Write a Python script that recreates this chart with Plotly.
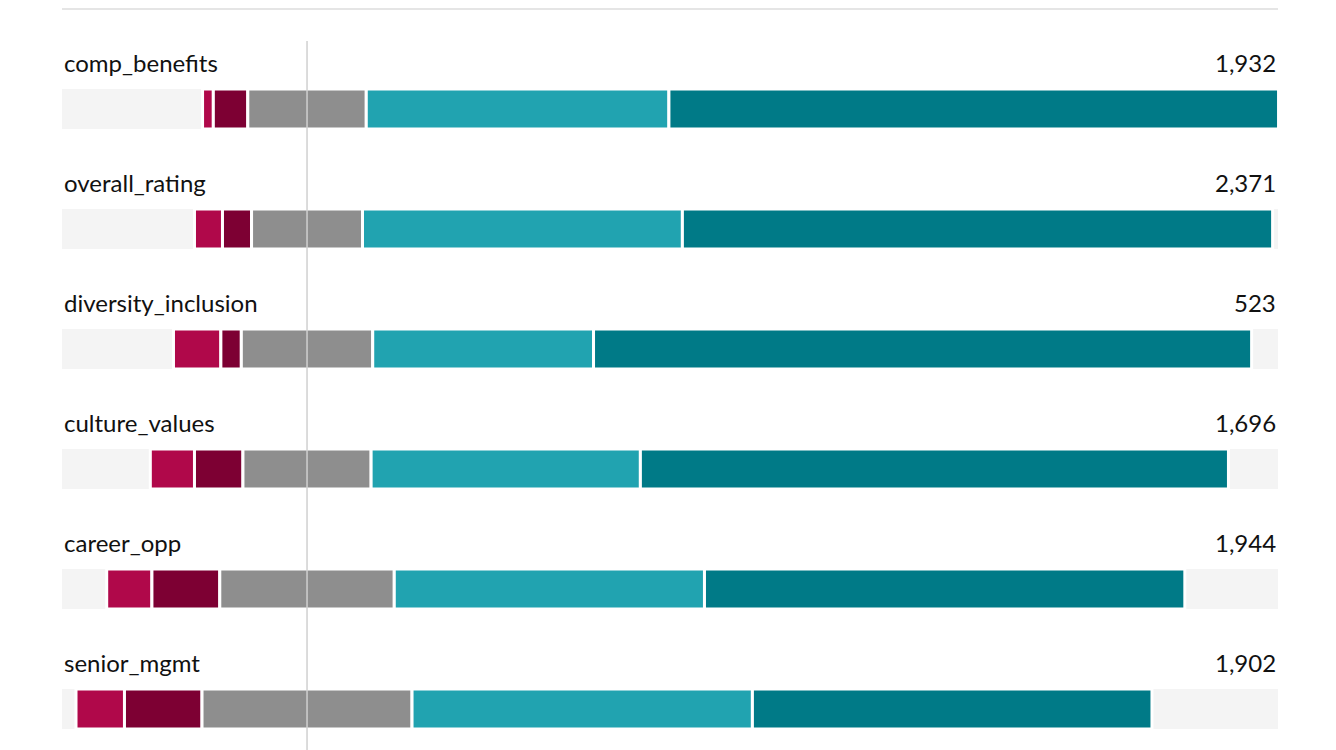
import plotly.graph_objects as go

categories = ["comp_benefits", "overall_rating", "diversity_inclusion", "culture_values", "career_opp", "senior_mgmt"]
counts = [1932, 2371, 523, 1696, 1944, 1902]
p1 = [1.0, 2.6, 4.4, 4.1, 4.2, 4.5]
p2 = [3.2, 2.7, 1.9, 4.5, 6.3, 7.2]
p3 = [11.0, 10.3, 12.2, 11.9, 16.2, 19.5]
p4 = [28.1, 29.7, 20.5, 25.0, 28.8, 31.6]
p5 = [56.6, 54.8, 61.1, 54.6, 44.6, 37.1]
colors = ["#b0084a", "#7d0033", "#8e8e8e", "#21a3b0", "#007a87"]
names = ["1", "2", "3", "4", "5"]

XMIN, XMAX = -22.75, 90.15
ys = [101 + 120 * i for i in range(len(categories))]

fig = go.Figure()
fig.add_trace(go.Bar(orientation="h", y=ys, x=[XMAX - XMIN] * len(ys), base=[XMIN] * len(ys),
                     width=40, marker=dict(color="#f4f4f4", line=dict(width=0)), showlegend=False, hoverinfo="skip"))
series = [p1, p2, p3, p4, p5]
starts = [-(a + b + c / 2) for a, b, c in zip(p1, p2, p3)]
cum = list(starts)
for s, col, nm in zip(series, colors, names):
    fig.add_trace(go.Bar(orientation="h", y=ys, x=s, base=list(cum), width=40, name=nm,
                         marker=dict(color=col, line=dict(color="white", width=3)), showlegend=False))
    cum = [c + v for c, v in zip(cum, s)]

for y, cat, n in zip(ys, categories, counts):
    fig.add_annotation(x=XMIN, y=y - 47, text=cat, showarrow=False, xanchor="left", yanchor="middle",
                       font=dict(size=24, color="#111"))
    fig.add_annotation(x=XMAX, y=y - 47, text=f"{n:,}", showarrow=False, xanchor="right", yanchor="middle",
                       font=dict(size=24, color="#111"))

fig.add_shape(type="line", x0=0, x1=0, y0=33, y1=750, line=dict(color="#d0d0d0", width=1.5), layer="above")
fig.add_shape(type="line", x0=XMIN, x1=XMAX, y0=1, y1=1, line=dict(color="#dddddd", width=1.5))

fig.update_layout(width=1336, height=750, margin=dict(l=54, r=66, t=0, b=0),
                  plot_bgcolor="white", paper_bgcolor="white", barmode="overlay",
                  font=dict(family="Lato", size=24),
                  xaxis=dict(range=[XMIN, XMAX], visible=False, fixedrange=True),
                  yaxis=dict(range=[750, 0], visible=False, fixedrange=True))
fig.write_html("out.html")
